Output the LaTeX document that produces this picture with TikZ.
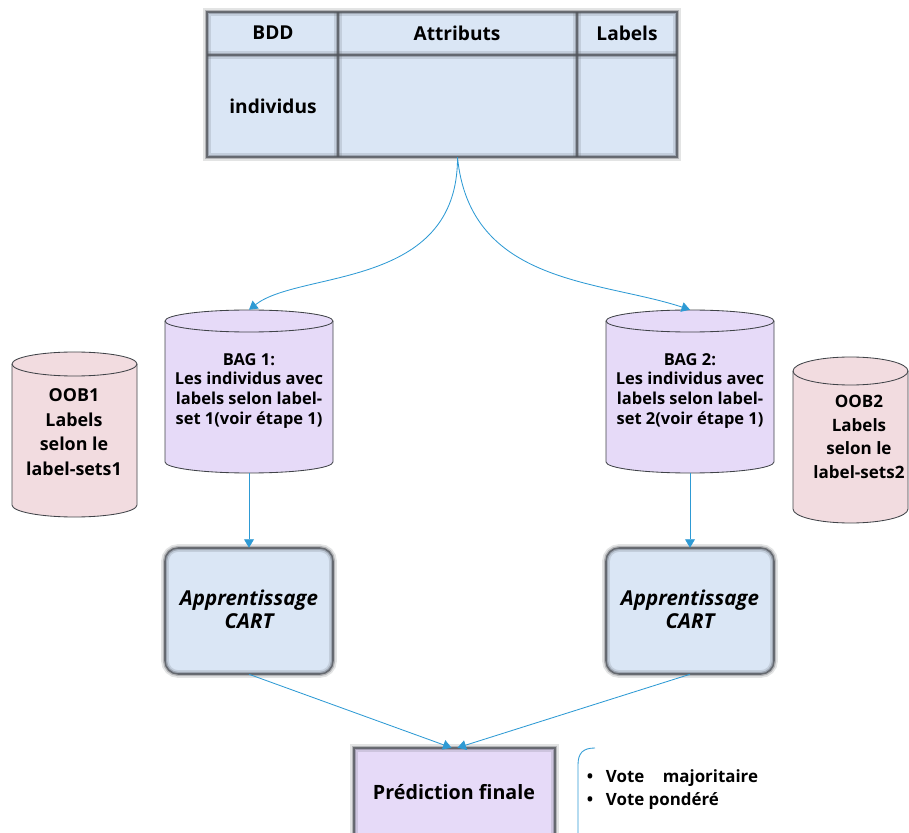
\documentclass[tikz,border=0pt]{standalone}
\usepackage{fontspec}
\setmainfont{Open Sans}
\usetikzlibrary{fit,arrows.meta}

\definecolor{tblfill}{HTML}{DAE6F5}
\definecolor{bagfill}{HTML}{E6DAF8}
\definecolor{oobfill}{HTML}{F2DCE0}
\definecolor{linkblue}{HTML}{2E9AD4}
\definecolor{edgegray}{HTML}{50545A}

\tikzset{
  % soft, blurred frame: three strokes from wide and faint to thin and dark
  glowA/.style={draw=edgegray, draw opacity=0.16, line width=5.5pt},
  glowB/.style={draw=edgegray, draw opacity=0.32, line width=3pt},
  glowC/.style={draw=edgegray, draw opacity=0.75, line width=1.1pt},
  cylline/.style={draw=edgegray!80!black, line width=0.6pt},
  link/.style={draw=linkblue, line width=0.6pt, -{Triangle[length=6pt,width=7pt]}},
  area/.style={inner sep=0pt, draw=none},
  bagtext/.style={font=\bfseries\fontsize{11.7}{14.2}\selectfont, align=center},
  oobtext/.style={font=\bfseries\fontsize{12.7}{17.6}\selectfont, align=center},
  oobtextB/.style={font=\bfseries\fontsize{12.1}{16.8}\selectfont, align=center},
  carttext/.style={font=\bfseries\itshape\fontsize{14.6}{16.2}\selectfont, align=center},
  headtext/.style={font=\bfseries\fontsize{13.6}{16}\selectfont},
}

\begin{document}
\begin{tikzpicture}[x=0.025cm,y=-0.025cm]
\useasboundingbox (0,0) rectangle (909,833);

% ---------- data table ----------
\fill[tblfill] (207,12) rectangle (677,157);
\foreach \s in {glowA,glowB,glowC}{
  \draw[\s] (207,12) rectangle (677,157);
  \draw[\s] (207,55) -- (677,55);
  \draw[\s] (338,12) -- (338,157);
  \draw[\s] (577,12) -- (577,157);
}
\node[area, fit={(207,12) (338,55)}] (hbdd) {};
\node[area, fit={(338,12) (577,55)}] (hattr) {};
\node[area, fit={(577,12) (677,55)}] (hlab) {};
\node[area, fit={(207,55) (338,157)}] (cind) {};
\node[area, fit={(338,55) (577,157)}] (cattr) {};
\node[area, fit={(577,55) (677,157)}] (clab) {};
\node[headtext] (hbddtxt) at (273,33) {BDD};
\node[headtext] (hattrtxt) at (457,33) {Attributs};
\node[headtext] (hlabtxt) at (627,33) {Labels};
\node[headtext] (cindtxt) at (273,106) {individus};

% ---------- cylinders ----------
% BAG 1
\filldraw[cylline, fill=bagfill] (165,321) -- (165,462)
  arc[start angle=180, end angle=0, x radius=84, y radius=11] -- (333,321)
  arc[start angle=0, end angle=-180, x radius=84, y radius=11] -- cycle;
\draw[cylline] (165,321) arc[start angle=180, end angle=0, x radius=84, y radius=11];
\node[area, fit={(165,310) (333,473)}] (bag1) {};
\node[bagtext] (bag1txt) at (249,391) {BAG 1:\\Les individus avec\\labels selon label-\\set 1(voir étape 1)};

% BAG 2
\filldraw[cylline, fill=bagfill] (606,321) -- (606,462)
  arc[start angle=180, end angle=0, x radius=84, y radius=11] -- (774,321)
  arc[start angle=0, end angle=-180, x radius=84, y radius=11] -- cycle;
\draw[cylline] (606,321) arc[start angle=180, end angle=0, x radius=84, y radius=11];
\node[area, fit={(606,310) (774,473)}] (bag2) {};
\node[bagtext] (bag2txt) at (690,391) {BAG 2:\\Les individus avec\\labels selon label-\\set 2(voir étape 1)};

% OOB 1
\filldraw[cylline, fill=oobfill] (12,364) -- (12,505)
  arc[start angle=180, end angle=0, x radius=62.5, y radius=12] -- (137,364)
  arc[start angle=0, end angle=-180, x radius=62.5, y radius=12] -- cycle;
\draw[cylline] (12,364) arc[start angle=180, end angle=0, x radius=62.5, y radius=12];
\node[area, fit={(12,352) (137,517)}] (oob1) {};
\node[oobtext] (oob1txt) at (74,432) {OOB1\\Labels\\selon le\\label-sets1};

% OOB 2
\filldraw[cylline, fill=oobfill] (793,371) -- (793,509)
  arc[start angle=180, end angle=0, x radius=57.5, y radius=14] -- (908,371)
  arc[start angle=0, end angle=-180, x radius=57.5, y radius=14] -- cycle;
\draw[cylline] (793,371) arc[start angle=180, end angle=0, x radius=57.5, y radius=14];
\node[area, fit={(793,357) (908,523)}] (oob2) {};
\node[oobtextB] (oob2txt) at (859,437) {OOB2\\Labels\\selon le\\label-sets2};

% ---------- learning boxes ----------
\fill[tblfill, rounded corners=13*0.025cm] (165,548) rectangle (333,674);
\foreach \s in {glowA,glowB,glowC}
  \draw[\s, rounded corners=13*0.025cm] (165,548) rectangle (333,674);
\node[area, fit={(165,548) (333,674)}] (cart1) {};
\node[carttext] (cart1txt) at (249,609) {Apprentissage\\CART};

\fill[tblfill, rounded corners=13*0.025cm] (606,548) rectangle (774,674);
\foreach \s in {glowA,glowB,glowC}
  \draw[\s, rounded corners=13*0.025cm] (606,548) rectangle (774,674);
\node[area, fit={(606,548) (774,674)}] (cart2) {};
\node[carttext] (cart2txt) at (690,609) {Apprentissage\\CART};

% ---------- final prediction ----------
\fill[bagfill] (354,748) rectangle (555,840);
\foreach \s in {glowA,glowB,glowC}
  \draw[\s] (354,840) -- (354,748) -- (555,748) -- (555,840);
\node[area, fit={(354,748) (555,836)}] (final) {};
\node[font=\bfseries\fontsize{14}{17}\selectfont] (finaltxt) at (454,792) {Prédiction finale};

% bracket and vote list
\coordinate (brtop) at (595,748);
\coordinate (brbot) at (578,840);
\draw[linkblue, line width=0.6pt] (brtop) .. controls (583,748) and (578,753) .. (578,765) -- (brbot);
\node[anchor=west, font=\bfseries\fontsize{12}{14}\selectfont] (vote1) at (582,778) {\textbullet\hspace{0.75em}Vote\hspace{1.1em}majoritaire};
\node[anchor=west, font=\bfseries\fontsize{12}{14}\selectfont] (vote2) at (582,801) {\textbullet\hspace{0.75em}Vote pondéré};

% ---------- connectors ----------
\draw[link] (cattr.south) .. controls (458,290) and (300,270) .. (bag1.north);
\draw[link] (cattr.south) .. controls (470,285) and (600,280) .. (bag2.north);
\draw[link] (bag1.south) -- (cart1.north);
\draw[link] (bag2.south) -- (cart2.north);
\draw[link] (cart1.south) -- ([xshift=-3*0.025cm]final.north);
\draw[link] (cart2.south) -- ([xshift=3*0.025cm]final.north);
\end{tikzpicture}
\end{document}
